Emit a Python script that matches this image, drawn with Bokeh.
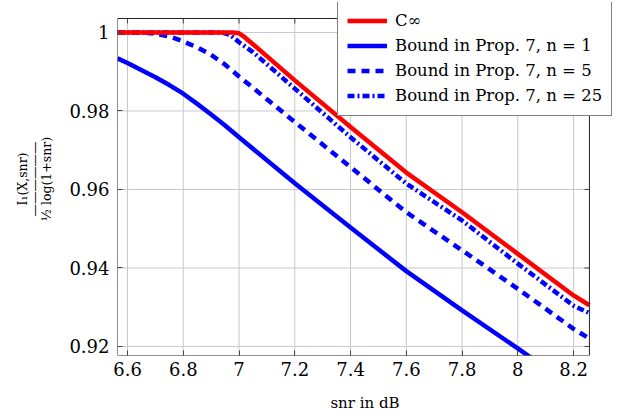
from bokeh.plotting import figure
from bokeh.models import Range1d, FixedTicker, CustomJSTickFormatter, Legend, LegendItem
from bokeh.embed import file_html
from bokeh.resources import INLINE

# data
snr_c = [6.564, 6.8, 6.98, 7.0, 7.02, 7.05, 7.2, 7.4, 7.6, 7.8, 8.0, 8.2, 8.257]
c_inf = [1.0, 1.0, 1.0, 0.9998, 0.9988, 0.9970, 0.9878, 0.9759, 0.9643, 0.9542, 0.9436, 0.9330, 0.9305]

snr_1 = [6.564, 6.6, 6.7, 6.75, 6.8, 6.85, 6.9, 6.95, 7.0, 7.2, 7.4, 7.6, 7.8, 8.0, 8.05]
n1 = [0.9934, 0.9922, 0.9886, 0.9866, 0.9844, 0.9818, 0.9791, 0.9763, 0.9733, 0.9616, 0.9503, 0.9392, 0.9292, 0.9195, 0.9170]

snr_5 = [6.564, 6.65, 6.7, 6.75, 6.8, 6.85, 6.9, 6.95, 7.0, 7.2, 7.4, 7.6, 7.8, 8.0, 8.2, 8.257]
n5 = [1.0, 1.0, 0.9997, 0.9990, 0.9977, 0.9962, 0.9943, 0.9918, 0.9888, 0.9772, 0.9657, 0.9542, 0.9445, 0.9347, 0.9245, 0.9220]

snr_25 = [6.564, 6.94, 6.97, 7.0, 7.05, 7.2, 7.4, 7.6, 7.8, 8.0, 8.2, 8.257]
n25 = [1.0, 1.0, 0.9993, 0.9975, 0.9950, 0.9857, 0.9733, 0.9615, 0.9521, 0.9411, 0.9304, 0.9285]

x_ticks = [6.6, 6.8, 7.0, 7.2, 7.4, 7.6, 7.8, 8.0, 8.2]
y_ticks = [0.92, 0.94, 0.96, 0.98, 1.0]

# plotted window of the axes box
x_lo, x_hi = 6.564, 8.257
y_lo, y_hi = 0.9177, 1.00356

legend_labels = ["C\u221e", "Bound in Prop. 7, n = 1", "Bound in Prop. 7, n = 5", "Bound in Prop. 7, n = 25"]

SERIF = "DejaVu Serif"
FRAME = "#222222"

# canvas frame is a bit larger than the axes box so the legend can overhang it
p = figure(width=619, height=420, output_backend="svg", toolbar_location=None,
           x_range=Range1d(x_lo, x_lo + (612 - 117) / 278.75),
           y_range=Range1d(y_lo, y_lo + (355 - 2) / 3925.0),
           min_border_left=117, min_border_right=7, min_border_top=2, min_border_bottom=65)

p.outline_line_color = None
p.grid.visible = False

for ax in (p.xaxis[0], p.yaxis[0]):
    ax.major_tick_in = 5
    ax.major_tick_out = 0
    ax.minor_tick_line_color = None
    ax.axis_line_color = None
    ax.major_tick_line_color = "#444444"
    ax.major_label_text_font = SERIF
    ax.major_label_text_font_size = "18px"
    ax.major_label_text_color = "black"
    ax.axis_label_text_font = SERIF
    ax.axis_label_text_font_style = "normal"
    ax.axis_label_text_color = "black"

p.xaxis.ticker = FixedTicker(ticks=x_ticks)
p.yaxis.ticker = FixedTicker(ticks=y_ticks)
p.xaxis.formatter = CustomJSTickFormatter(code="return Math.abs(tick-Math.round(tick))<1e-6 ? tick.toFixed(0) : tick.toFixed(1);")
p.yaxis.formatter = CustomJSTickFormatter(code="return tick > 0.999 ? '1' : tick.toFixed(2);")
p.xaxis.major_label_standoff = 6
p.yaxis.major_label_standoff = 8

p.xaxis.axis_label = "snr in dB"
p.xaxis.axis_label_text_font_size = "15px"
p.xaxis.axis_label_standoff = 15

p.yaxis.axis_label = "I\u2081(X,snr)\n\u2014\u2014\u2014\u2014\u2014\u2014\n\u00bd log(1+snr)"
p.yaxis.axis_label_text_font_size = "12.5px"
p.yaxis.axis_label_text_line_height = 0.8
p.yaxis.axis_label_standoff = 12

# grid lines inside the axes box
GRID = "#c8c8c8"
p.segment(x0=x_ticks, x1=x_ticks, y0=[y_lo] * len(x_ticks), y1=[y_hi] * len(x_ticks),
          line_color=GRID, line_width=1)
p.segment(x0=[x_lo] * len(y_ticks), x1=[x_hi] * len(y_ticks), y0=y_ticks, y1=y_ticks,
          line_color=GRID, line_width=1)

LW = 4.5
r1 = p.line(snr_1, n1, line_color="blue", line_width=LW)
r5 = p.line(snr_5, n5, line_color="blue", line_width=LW, line_dash="8 6")
r25 = p.line(snr_25, n25, line_color="blue", line_width=LW, line_dash="7 3 2 3")
rc = p.line(snr_c, c_inf, line_color="red", line_width=LW)

# mirrored ticks on top and right
tx = 5 / 278.75
ty = 5 / 3925.0
p.segment(x0=x_ticks, x1=x_ticks, y0=[y_hi] * len(x_ticks), y1=[y_hi - ty] * len(x_ticks),
          line_color="#444444", line_width=1)
p.segment(x0=[x_hi] * len(y_ticks), x1=[x_hi - tx] * len(y_ticks), y0=y_ticks, y1=y_ticks,
          line_color="#444444", line_width=1)

# axes box
p.quad(left=[x_lo], right=[x_hi], bottom=[y_lo], top=[y_hi],
       fill_color=None, line_color=FRAME, line_width=1)

legend = Legend(items=[LegendItem(label=legend_labels[0], renderers=[rc]),
                       LegendItem(label=legend_labels[1], renderers=[r1]),
                       LegendItem(label=legend_labels[2], renderers=[r5]),
                       LegendItem(label=legend_labels[3], renderers=[r25])],
                location=(220, 239))
legend.label_text_font = SERIF
legend.label_text_font_size = "16.5px"
legend.label_text_color = "black"
legend.glyph_width = 40
legend.glyph_height = 21
legend.spacing = 4
legend.padding = 9
legend.margin = 0
legend.label_standoff = 8
legend.border_line_color = "black"
legend.border_line_width = 1
legend.background_fill_alpha = 1
p.add_layout(legend, "center")

html = file_html(p, INLINE)
open("out.html", "w").write(html)
